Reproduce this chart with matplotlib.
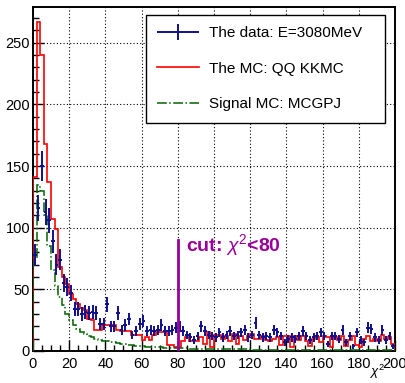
import numpy as np
import matplotlib
matplotlib.use("Agg")
import matplotlib.pyplot as plt
from matplotlib.legend_handler import HandlerErrorbar

plt.rcParams['font.family'] = ['Liberation Sans', 'DejaVu Sans']
plt.rcParams['mathtext.fontset'] = 'custom'
plt.rcParams['mathtext.rm'] = 'Liberation Sans'
plt.rcParams['mathtext.it'] = 'Liberation Sans:italic'

# chi2 binning: 100 bins of width 2 from 0 to 200
edges = np.arange(0, 202, 2)
centers = edges[:-1] + 1

# data counts at E=3080MeV
data_counts = [78, 116, 150, 113, 106, 89, 70, 74, 55, 52,
               47, 34, 34, 30, 32, 31, 32, 31, 22, 22,
               38, 20, 20, 31, 17, 21, 26, 13, 16, 22,
               24, 16, 17, 16, 17, 21, 16, 16, 17, 19,
               20, 16, 13, 11, 9, 12, 20, 16, 13, 12,
               11, 15, 11, 13, 16, 12, 13, 15, 17, 11,
               13, 23, 13, 11, 12, 11, 17, 15, 12, 7,
               10, 11, 10, 12, 16, 12, 9, 11, 12, 15,
               12, 6, 12, 12, 10, 17, 7, 12, 4, 15,
               9, 7, 19, 18, 11, 9, 17, 9, 12, 4]

# QQ KKMC background, normalised
mc_qq = [141, 267, 240, 168, 137, 107, 99, 68, 60, 54,
         46, 42, 38, 35, 33, 26, 25, 17, 17, 21,
         21, 21, 21, 17, 16, 16, 16, 13, 13, 13,
         9, 11, 9, 13, 15, 15, 15, 5, 5, 3,
         3, 8, 11, 8, 8, 8, 11, 6, 15, 3,
         13, 13, 10, 12, 8, 14, 6, 12, 9, 12,
         14, 10, 10, 12, 9, 8, 10, 11, 5, 12,
         12, 3, 12, 9, 12, 8, 4, 10, 11, 7,
         12, 11, 3, 11, 9, 12, 4, 9, 12, 5,
         3, 10, 12, 8, 10, 8, 13, 10, 11, 6]

# MCGPJ signal
mc_sig = [75, 135, 130, 110, 85, 66, 53, 44, 37, 30,
          25, 21, 18, 15, 13.5, 12, 11, 10, 9, 8.5,
          8, 7.5, 7, 6.5, 6, 5.5, 5, 4.6, 4.3, 4,
          3.8, 3.6, 3.4, 3.2, 3, 2.9, 2.8, 2.6, 2.5, 2.4,
          2.3, 2.2, 2.1, 2, 2, 1.9, 1.8, 1.8, 1.7, 1.7,
          1.6, 1.6, 1.5, 1.5, 1.4, 1.4, 1.4, 1.3, 1.3, 1.3,
          1.2, 1.2, 1.2, 1.1, 1.1, 1.1, 1.0, 1.0, 1.0, 1.0,
          0.9, 0.9, 0.9, 0.9, 0.8, 0.8, 0.8, 0.8, 0.8, 0.7,
          0.7, 0.7, 0.7, 0.7, 0.6, 0.6, 0.6, 0.6, 0.6, 0.6,
          0.5, 0.5, 0.5, 0.5, 0.5, 0.5, 0.5, 0.5, 0.4, 0.4]

chi2_cut = 80
cut_line_top = 90

data_counts = np.array(data_counts, dtype=float)

fig = plt.figure(figsize=(4.06, 3.83), dpi=100)
ax = fig.add_axes([0.081, 0.0836, 0.892, 0.898])

ax.grid(True, color='black', linestyle=(0, (1, 2)), linewidth=0.8)
ax.set_axisbelow(True)

ax.stairs(mc_qq, edges, color='#ff0000', linewidth=1.2, label='The MC: QQ KKMC', zorder=3)
ax.stairs(mc_sig, edges, color='#006400', linestyle='-.', linewidth=1.1,
          label='Signal MC: MCGPJ', zorder=3)
eb = ax.errorbar(centers, data_counts, xerr=1, yerr=np.sqrt(data_counts), fmt='none',
                 ecolor='#10108f', elinewidth=1.4, label='The data: E=3080MeV', zorder=4)

# chi2 cut
ax.plot([chi2_cut, chi2_cut], [0, cut_line_top], color='#990099', linewidth=2, zorder=5)
ax.text(chi2_cut + 4.5, cut_line_top - 4, r'cut: $\chi^2$<80', color='#990099',
        fontsize=14, fontweight='bold', va='center', ha='left', zorder=5)

ax.set_xlim(0, 200)
ax.set_ylim(0, 279)
ax.set_xticks(np.arange(0, 201, 20))
ax.set_yticks(np.arange(0, 251, 50))
ax.set_xticks(np.arange(0, 201, 5), minor=True)
ax.set_yticks(np.arange(0, 271, 10), minor=True)
ax.tick_params(which='both', direction='in', labelsize=10.5)
ax.tick_params(which='major', length=8, width=1)
ax.tick_params(which='minor', length=4, width=1)
ax.tick_params(axis='y', pad=2)
ax.tick_params(axis='x', pad=4)
for sp in ax.spines.values():
    sp.set_linewidth(1.4)

ax.set_xlabel(r'$\chi^2$', fontsize=9.5, ha='center', va='bottom')
ax.xaxis.set_label_coords(0.953, -0.088)

handles, labels = ax.get_legend_handles_labels()
order = [2, 0, 1]
leg = ax.legend([handles[i] for i in order], [labels[i] for i in order],
                loc='upper left', bbox_to_anchor=(0.312, 0.5, 0.66, 0.477),
                mode='expand', borderaxespad=0, fontsize=11,
                fancybox=False, framealpha=1, edgecolor='black',
                handlelength=2.75, handletextpad=0.65, labelspacing=1.4,
                borderpad=0.75,
                handler_map={type(eb): HandlerErrorbar(xerr_size=1.375, yerr_size=0.5)})
leg.get_frame().set_linewidth(1)

fig.savefig('out.png', dpi=100)
